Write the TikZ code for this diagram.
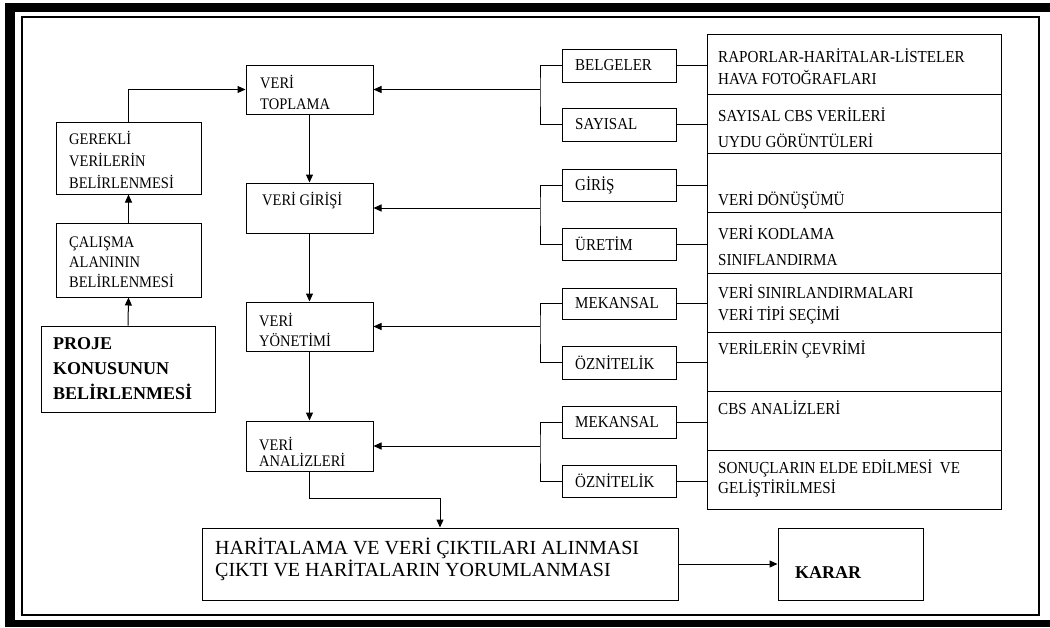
\documentclass[tikz,border=0pt]{standalone}
\usepackage{fontspec}
\setmainfont{Liberation Serif}
\newfontfamily\rf[FakeStretch=0.9]{Liberation Serif}
\usetikzlibrary{arrows.meta,fit,calc}
\begin{document}
\begin{tikzpicture}[x=1pt,y=-1pt,
  box/.style={draw, line width=1pt, inner sep=0pt},
  arr/.style={-{Triangle[length=8pt,width=7pt]}, line width=1pt},
  ln/.style={line width=1pt},
  txt/.style={inner sep=0pt, anchor=west, align=left, font=\rf\fontsize{16.1}{22}\selectfont},
  mtxt/.style={inner sep=0pt, anchor=west, align=left, font=\rf\fontsize{16.7}{22}\selectfont},
  rtxt/.style={inner sep=0pt, anchor=west, align=left, font=\rf\fontsize{16.8}{22}\selectfont}]
\useasboundingbox (0,0) rectangle (1050,627);
% frame
\fill[black] (5,3) rectangle (1050,12);
\fill[black] (5,3) rectangle (15,627);
\fill[black] (5,620) rectangle (1050,627);
\draw[line width=1.2pt] (22,17) rectangle (1039,615);
% left / main column
\node[box, fit={(246,65) (373,114)}] (vt) {};
\node[txt, font=\rf\fontsize{16.1}{21}\selectfont] (vtt) at (260,92) {VERİ\\TOPLAMA};
\node[box, fit={(56,122) (201,194)}] (ge) {};
\node[txt] (get) at (69,160) {GEREKLİ\\VERİLERİN\\BELİRLENMESİ};
\node[box, fit={(246,183) (373,233)}] (vg) {};
\node[txt] (vgt) at (262,201) {VERİ GİRİŞİ};
\node[box, fit={(56,223) (201,297)}] (ca) {};
\node[txt, font=\rf\fontsize{16.1}{20}\selectfont] (cat) at (69,262) {ÇALIŞMA\\ALANININ\\BELİRLENMESİ};
\node[box, fit={(41,326) (215,412)}] (pk) {};
\node[txt, font=\fontsize{18}{25}\selectfont\bfseries] (pkt) at (53,369) {PROJE\\KONUSUNUN\\BELİRLENMESİ};
\node[box, fit={(246,302) (373,351)}] (vy) {};
\node[txt, font=\rf\fontsize{16.1}{20}\selectfont] (vyt) at (259,330) {VERİ\\YÖNETİMİ};
\node[box, fit={(246,421) (373,471)}] (va) {};
\node[txt, font=\rf\fontsize{16.1}{16}\selectfont] (vat) at (259,451.5) {VERİ\\ANALİZLERİ};
\node[box, fit={(202,528) (678,600)}] (bt) {};
\node[txt, font=\fontsize{20}{22}\selectfont] (btt) at (215,559) {HARİTALAMA VE VERİ ÇIKTILARI ALINMASI\\ÇIKTI VE HARİTALARIN YORUMLANMASI};
\node[box, fit={(778,528) (923,600)}] (kr) {};
\node[txt, font=\fontsize{18}{20}\selectfont\bfseries] (krt) at (795,573) {KARAR};
% middle column
\node[box, fit={(562,49) (676,82)}] (m1) {};
\node[mtxt] (m1t) at (575,65.5) {BELGELER};
\node[box, fit={(562,108) (676,141)}] (m2) {};
\node[mtxt] (m2t) at (575,124.5) {SAYISAL};
\node[box, fit={(562,169) (676,201)}] (m3) {};
\node[mtxt] (m3t) at (575,185) {GİRİŞ};
\node[box, fit={(562,228) (676,260)}] (m4) {};
\node[mtxt] (m4t) at (575,244) {ÜRETİM};
\node[box, fit={(562,288) (676,319)}] (m5) {};
\node[mtxt] (m5t) at (575,303.5) {MEKANSAL};
\node[box, fit={(562,346) (676,379)}] (m6) {};
\node[mtxt] (m6t) at (575,362.5) {ÖZNİTELİK};
\node[box, fit={(562,406) (676,438)}] (m7) {};
\node[mtxt] (m7t) at (575,422) {MEKANSAL};
\node[box, fit={(562,465) (676,497)}] (m8) {};
\node[mtxt] (m8t) at (575,481) {ÖZNİTELİK};
% right column
\node[box, fit={(707,34) (1001,94)}] (r1) {};
\node[rtxt] (r1t) at (718,67) {RAPORLAR-HARİTALAR-LİSTELER\\HAVA FOTOĞRAFLARI};
\node[box, fit={(707,94) (1001,153)}] (r2) {};
\node[rtxt, font=\rf\fontsize{16.8}{26}\selectfont] (r2t) at (718,128) {SAYISAL CBS VERİLERİ\\UYDU GÖRÜNTÜLERİ};
\node[box, fit={(707,153) (1001,212)}] (r3) {};
\node[rtxt] (r3t) at (718,200) {VERİ DÖNÜŞÜMÜ};
\node[box, fit={(707,212) (1001,273)}] (r4) {};
\node[rtxt, font=\rf\fontsize{16.8}{26}\selectfont] (r4t) at (718,246) {VERİ KODLAMA\\SINIFLANDIRMA};
\node[box, fit={(707,273) (1001,332)}] (r5) {};
\node[rtxt] (r5t) at (718,304) {VERİ SINIRLANDIRMALARI\\VERİ TİPİ SEÇİMİ};
\node[box, fit={(707,332) (1001,391)}] (r6) {};
\node[rtxt] (r6t) at (718,349) {VERİLERİN ÇEVRİMİ};
\node[box, fit={(707,391) (1001,450)}] (r7) {};
\node[rtxt] (r7t) at (718,408) {CBS ANALİZLERİ};
\node[box, fit={(707,450) (1001,509)}] (r8) {};
\node[rtxt, font=\rf\fontsize{16.8}{20}\selectfont] (r8t) at (718,478) {SONUÇLARIN ELDE EDİLMESİ\ \ VE\\GELİŞTİRİLMESİ};
% junctions
\coordinate (j1) at (540,89.5);
\coordinate (j2) at (540,208);
\coordinate (j3) at (540,326.5);
\coordinate (j4) at (540,446);
% connectors: left column
\draw[arr] (pk.north) -- (ca.south);
\draw[arr] (ca.north) -- (ge.south);
\draw[arr] (ge.north) |- (vt.west);
\draw[arr] (vt.south) -- (vg.north);
\draw[arr] (vg.south) -- (vy.north);
\draw[arr] (vy.south) -- (va.north);
\draw[arr] (va.south) -- ++(0,27) -| (bt.north);
\draw[arr] (bt.east) -- (kr.west);
% brackets
\draw[ln] (m1.west) -| (j1) |- (m2.west);
\draw[arr] (j1) -- (vt.east);
\draw[ln] (m3.west) -| (j2) |- (m4.west);
\draw[arr] (j2) -- (vg.east);
\draw[ln] (m5.west) -| (j3) |- (m6.west);
\draw[arr] (j3) -- (vy.east);
\draw[ln] (m7.west) -| (j4) |- (m8.west);
\draw[arr] (j4) -- (va.east);
% middle to right
\draw[ln] (m1.east) -- (m1.east -| r1.west);
\draw[ln] (m2.east) -- (m2.east -| r2.west);
\draw[ln] (m3.east) -- (m3.east -| r3.west);
\draw[ln] (m4.east) -- (m4.east -| r4.west);
\draw[ln] (m5.east) -- (m5.east -| r5.west);
\draw[ln] (m6.east) -- (m6.east -| r6.west);
\draw[ln] (m7.east) -- (m7.east -| r7.west);
\draw[ln] (m8.east) -- (m8.east -| r8.west);
\end{tikzpicture}
\end{document}
